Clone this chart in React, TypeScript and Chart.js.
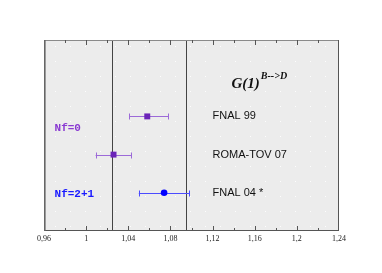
import React, { useEffect, useRef } from "react";
import { Chart, registerables } from "chart.js";
Chart.register(...registerables);

// ---- data ----
const studies = ["FNAL 99", "ROMA-TOV 07", "FNAL 04 *"];
const rows = [2, 3, 4];
const values = [1.058, 1.026, 1.074];
const errMinus = [0.017, 0.017, 0.024];
const errPlus = [0.02, 0.017, 0.024];
const markerShapes = ["rect", "rect", "circle"];
const markerSizes = [4.2, 4.2, 3.3];
const markerColors = ["#6b24b8", "#6b24b8", "#0000ff"];
const barColors = ["#9c6ad8", "#9c6ad8", "#4b4bff"];
const refLines = [1.025, 1.095];
const xMin = 0.96;
const xMax = 1.24;
const xStep = 0.04;
const minorStep = 0.02;
const groupLabels = ["Nf=0", "Nf=2+1"];
const groupRows = [2.32, 4.03];
const groupColors = ["#8a3ad2", "#1a1aff"];
const labelValueX = 1.12;
const groupValueX = 0.97;
const titleMain = "G(1)";
const titleSup = "B-->D";
const titleValueX = 1.138;
const titleRow = 1.25;

const fmt = (v: number) => {
  const r = Math.round(v * 100) / 100;
  return String(r).replace(".", ",");
};

const drawPlugin = {
  id: "forestDecor",
  beforeDraw(chart: any) {
    const { ctx, chartArea: a } = chart;
    ctx.save();
    ctx.fillStyle = "#ececec";
    ctx.fillRect(a.left, a.top, a.right - a.left, a.bottom - a.top);
    ctx.fillStyle = "rgba(255,255,255,0.9)";
    for (let x = a.left + 11; x < a.right; x += 15) {
      for (let y = a.top + 6; y < a.bottom; y += 15) {
        ctx.fillRect(Math.round(x), Math.round(y), 1, 1);
      }
    }
    ctx.restore();
  },
  beforeDatasetsDraw(chart: any) {
    const { ctx, chartArea: a, scales } = chart;
    const xs = scales.x;
    const ys = scales.y;
    ctx.save();
    ctx.strokeStyle = "#444";
    ctx.lineWidth = 1;
    refLines.forEach((v) => {
      const px = Math.round(xs.getPixelForValue(v)) + 0.5;
      ctx.beginPath();
      ctx.moveTo(px, a.top);
      ctx.lineTo(px, a.bottom);
      ctx.stroke();
    });
    values.forEach((v, i) => {
      const y = Math.round(ys.getPixelForValue(rows[i])) + 0.5;
      const x1 = xs.getPixelForValue(v - errMinus[i]);
      const x2 = xs.getPixelForValue(v + errPlus[i]);
      ctx.strokeStyle = barColors[i];
      ctx.lineWidth = 1;
      ctx.beginPath();
      ctx.moveTo(x1, y);
      ctx.lineTo(x2, y);
      ctx.moveTo(Math.round(x1) + 0.5, y - 3);
      ctx.lineTo(Math.round(x1) + 0.5, y + 3);
      ctx.moveTo(Math.round(x2) + 0.5, y - 3);
      ctx.lineTo(Math.round(x2) + 0.5, y + 3);
      ctx.stroke();
    });
    ctx.restore();
  },
  afterDatasetsDraw(chart: any) {
    const { ctx, chartArea: a, scales } = chart;
    const xs = scales.x;
    const ys = scales.y;
    ctx.save();
    // study labels
    ctx.fillStyle = "#111";
    ctx.font = "11px 'Liberation Sans', Arial, sans-serif";
    ctx.textBaseline = "middle";
    ctx.textAlign = "left";
    studies.forEach((s, i) => {
      ctx.fillText(s, xs.getPixelForValue(labelValueX), ys.getPixelForValue(rows[i]));
    });
    // group labels
    ctx.font = "bold 11px 'Liberation Mono', 'Courier New', monospace";
    groupLabels.forEach((g, i) => {
      ctx.fillStyle = groupColors[i];
      ctx.fillText(g, xs.getPixelForValue(groupValueX), ys.getPixelForValue(groupRows[i]));
    });
    // title
    ctx.fillStyle = "#111";
    ctx.textBaseline = "alphabetic";
    ctx.font = "italic bold 15px 'Liberation Serif', 'Times New Roman', serif";
    const tx = xs.getPixelForValue(titleValueX);
    const ty = ys.getPixelForValue(titleRow);
    ctx.fillText(titleMain, tx, ty);
    const w = ctx.measureText(titleMain).width;
    ctx.font = "italic bold 10px 'Liberation Serif', 'Times New Roman', serif";
    ctx.fillText(titleSup, tx + w + 1, ty - 9);
    // frame
    ctx.lineWidth = 1;
    ctx.strokeStyle = "#8a8a8a";
    ctx.beginPath();
    ctx.moveTo(a.left, a.top + 0.5);
    ctx.lineTo(a.right, a.top + 0.5);
    ctx.stroke();
    ctx.strokeStyle = "#555";
    ctx.beginPath();
    ctx.moveTo(a.right - 0.5, a.top);
    ctx.lineTo(a.right - 0.5, a.bottom);
    ctx.moveTo(a.left, a.bottom - 0.5);
    ctx.lineTo(a.right, a.bottom - 0.5);
    ctx.stroke();
    ctx.lineWidth = 1.6;
    ctx.strokeStyle = "#666";
    ctx.beginPath();
    ctx.moveTo(a.left + 0.8, a.top);
    ctx.lineTo(a.left + 0.8, a.bottom);
    ctx.stroke();
    // inward ticks
    ctx.lineWidth = 1;
    ctx.strokeStyle = "#555";
    const n = Math.round((xMax - xMin) / minorStep);
    for (let k = 1; k < n; k++) {
      const v = xMin + k * minorStep;
      const px = Math.round(xs.getPixelForValue(v)) + 0.5;
      const len = k % 2 === 0 ? 5 : 3;
      ctx.beginPath();
      ctx.moveTo(px, a.bottom);
      ctx.lineTo(px, a.bottom - len);
      ctx.moveTo(px, a.top);
      ctx.lineTo(px, a.top + len);
      ctx.stroke();
    }
    ctx.restore();
  },
};

export default function App() {
  const ref = useRef<HTMLCanvasElement | null>(null);
  useEffect(() => {
    document.body.style.margin = "0";
    if (!ref.current) return;
    const chart = new Chart(ref.current, {
      type: "scatter",
      data: {
        datasets: [
          {
            data: values.map((v, i) => ({ x: v, y: rows[i] })),
            pointStyle: markerShapes as any,
            pointRadius: markerSizes,
            backgroundColor: markerColors,
            borderColor: markerColors,
            borderWidth: 0,
          },
        ],
      },
      options: {
        animation: false,
        responsive: false,
        devicePixelRatio: 1,
        layout: { padding: { left: 44, right: 43, top: 40, bottom: 0 } },
        plugins: { legend: { display: false }, tooltip: { enabled: false } },
        scales: {
          x: {
            type: "linear",
            min: xMin,
            max: xMax,
            grid: { display: false, drawTicks: false },
            border: { display: false },
            afterFit: (s: any) => {
              s.height = 42;
            },
            ticks: {
              stepSize: xStep,
              padding: 3,
              color: "#222",
              maxRotation: 0,
              autoSkip: false,
              font: { family: "'Liberation Serif', 'Times New Roman', serif", size: 8 },
              callback: (v: any) => fmt(Number(v)),
            },
          },
          y: {
            type: "linear",
            display: false,
            min: 0,
            max: 5,
            reverse: true,
          },
        },
      },
      plugins: [drawPlugin],
    });
    return () => chart.destroy();
  }, []);
  return <canvas ref={ref} width={382} height={273} style={{ display: "block" }} />;
}
